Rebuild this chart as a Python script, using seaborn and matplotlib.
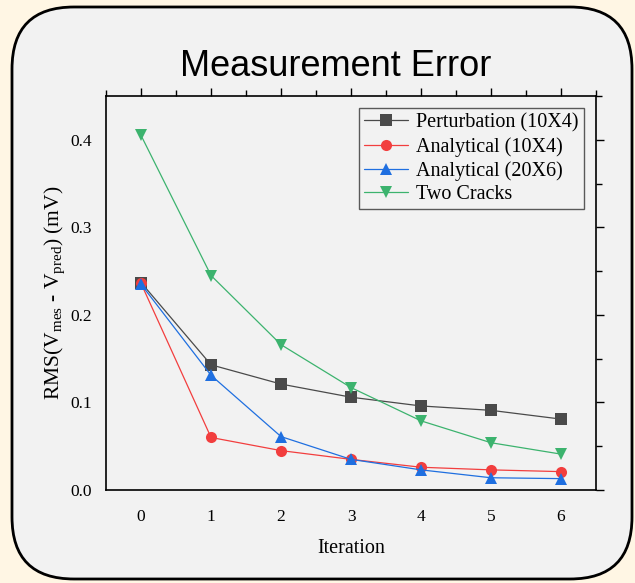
import numpy as np
import pandas as pd
import matplotlib
matplotlib.use("Agg")
import matplotlib.pyplot as plt
from matplotlib.patches import FancyBboxPatch
import seaborn as sns

iterations = [0, 1, 2, 3, 4, 5, 6]
perturbation_10x4 = [0.237, 0.143, 0.121, 0.106, 0.096, 0.091, 0.081]
analytical_10x4 = [0.236, 0.060, 0.045, 0.035, 0.026, 0.023, 0.021]
analytical_20x6 = [0.235, 0.131, 0.061, 0.035, 0.023, 0.014, 0.013]
two_cracks = [0.405, 0.245, 0.166, 0.117, 0.079, 0.054, 0.041]

series_names = ["Perturbation (10X4)", "Analytical (10X4)", "Analytical (20X6)", "Two Cracks"]
colors = ["#4a4a4a", "#f23e3e", "#1f6fe0", "#3cb36e"]
markers = ["s", "o", "^", "v"]

frames = []
for name, vals in zip(series_names, [perturbation_10x4, analytical_10x4, analytical_20x6, two_cracks]):
    frames.append(pd.DataFrame({"Iteration": iterations, "RMS": vals, "Series": name}))
df = pd.concat(frames, ignore_index=True)

sns.set_style("white")
plt.rcParams["font.family"] = ["Liberation Serif", "DejaVu Serif"]
plt.rcParams["text.color"] = "black"
plt.rcParams["axes.labelcolor"] = "black"
plt.rcParams["xtick.color"] = "black"
plt.rcParams["ytick.color"] = "black"

fig = plt.figure(figsize=(6.35, 5.83), dpi=100)
fig.patch.set_facecolor("#fff6e4")

# rounded panel behind the chart
panel = FancyBboxPatch((12, 4), 620, 572, boxstyle="round,pad=0,rounding_size=62",
                       transform=None, facecolor="#f2f2f2", edgecolor="black",
                       linewidth=2.0, zorder=-5)
fig.patches.append(panel)

ax = fig.add_axes([0.167, 0.1595, 0.7716, 0.6758])
ax.set_zorder(2)
ax.set_facecolor("#f2f2f2")

sns.lineplot(data=df, x="Iteration", y="RMS", hue="Series", style="Series",
             hue_order=series_names, style_order=series_names,
             palette=colors, markers=markers, dashes=False,
             markersize=8, linewidth=0.9, markeredgewidth=0, ax=ax)

ax.set_xlim(-0.5, 6.5)
ax.set_ylim(0, 0.45)
ax.set_xticks(range(0, 7))
ax.set_xticks(np.arange(-0.5, 6.6, 0.5), minor=True)
ax.set_yticks([0.0, 0.1, 0.2, 0.3, 0.4])
ax.set_yticks(np.arange(0, 0.451, 0.05), minor=True)
ax.tick_params(which="both", direction="out", top=True, right=True,
               labeltop=False, labelright=False, color="black", width=1.0)
ax.tick_params(which="major", length=6, labelsize=12.5, pad=4)
ax.tick_params(axis="x", which="major", pad=8)
ax.tick_params(which="minor", length=4)
for s in ax.spines.values():
    s.set_color("black")
    s.set_linewidth(1.2)

ax.set_xlabel("Iteration", fontsize=14.5, labelpad=10)
ax.set_ylabel(r"RMS(V$_{\mathregular{mes}}$ - V$_{\mathregular{pred}}$) (mV)", fontsize=15.5, labelpad=2)

leg = ax.legend(loc="upper right", fontsize=14.5, frameon=True, fancybox=False,
                edgecolor="#333333", borderaxespad=0.6, handlelength=2.2,
                handletextpad=0.4, labelspacing=0.22, borderpad=0.25)
leg.get_frame().set_linewidth(1.0)
leg.get_frame().set_facecolor("#f2f2f2")

fig.text(0.528, 0.886, "Measurement Error", ha="center", va="center",
         fontsize=26, color="black", family=["Liberation Sans", "DejaVu Sans"])

fig.savefig("out.png", dpi=100, facecolor=fig.get_facecolor())
